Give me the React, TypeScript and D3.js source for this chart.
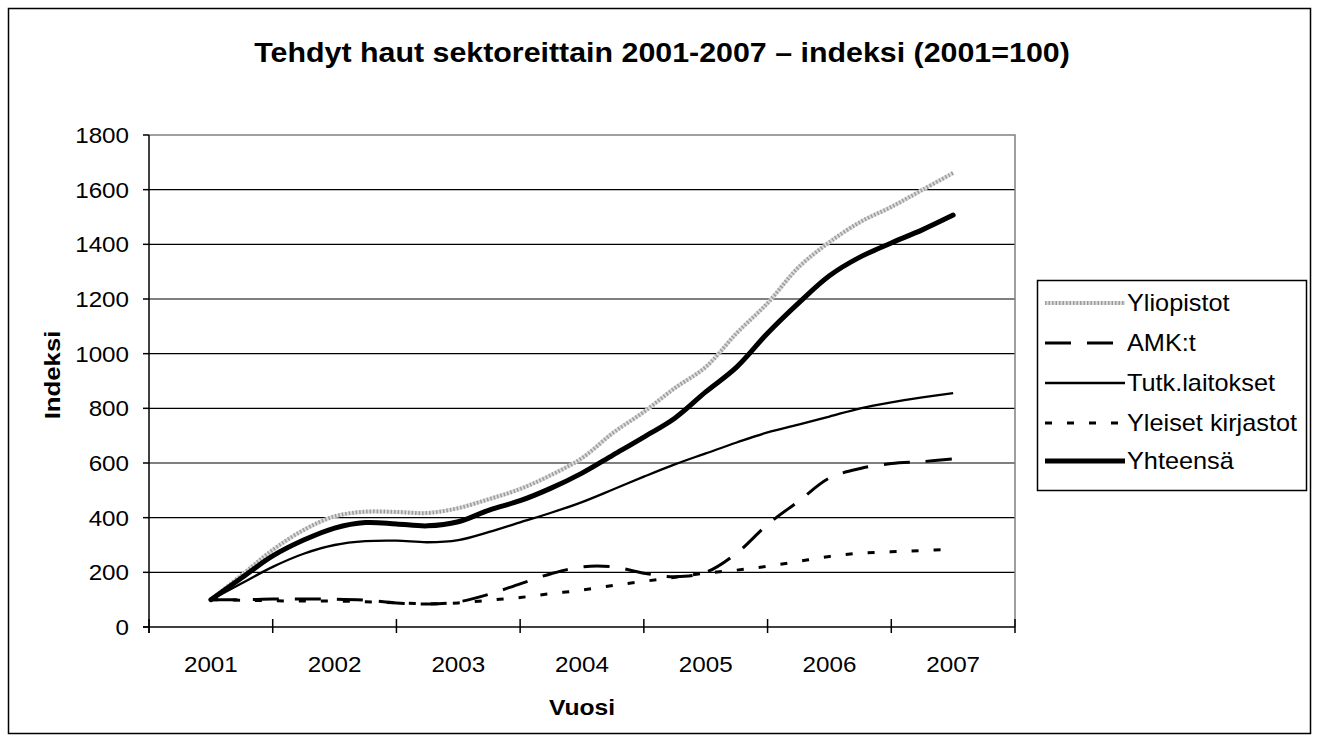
import React from "react";
import * as d3 from "d3";

const title = "Tehdyt haut sektoreittain 2001-2007 – indeksi (2001=100)";
const years = ["2001", "2002", "2003", "2004", "2005", "2006", "2007"];
const yTicks = [0, 200, 400, 600, 800, 1000, 1200, 1400, 1600, 1800];
const periods = [
  2001, 2001.25, 2001.5, 2001.75, 2002, 2002.25, 2002.5, 2002.75, 2003, 2003.25, 2003.5, 2003.75,
  2004, 2004.25, 2004.5, 2004.75, 2005, 2005.25, 2005.5, 2005.75, 2006, 2006.25, 2006.5, 2006.75, 2007,
];
const yliopistot = [
  100, 190, 282, 355, 405, 422, 421, 417, 435, 468, 505, 556,
  618, 710, 787, 874, 951, 1075, 1185, 1316, 1408, 1482, 1537, 1599, 1661,
];
const amk = [
  100, 100, 102, 102, 102, 98, 88, 84, 92, 120, 158, 195,
  220, 220, 197, 184, 200, 270, 375, 460, 545, 580, 598, 605, 615,
];
const tutk = [
  100, 160, 220, 268, 300, 314, 316, 310, 318, 348, 383, 418,
  457, 503, 550, 595, 635, 675, 712, 740, 770, 800, 822, 840, 856,
];
const yleiset = [
  100, 98, 96, 95, 95, 92, 88, 85, 88, 98, 108, 122,
  135, 152, 167, 182, 197, 208, 222, 240, 258, 270, 275, 280, 285,
];
const yhteensa = [
  100, 180, 260, 318, 362, 382, 377, 370, 385, 428, 462, 508,
  563, 629, 695, 764, 860, 951, 1075, 1185, 1285, 1354, 1405, 1453, 1507,
];

const seriesNames = ["Yliopistot", "AMK:t", "Tutk.laitokset", "Yleiset kirjastot", "Yhteensä"];

const FONT = "Arial, 'Liberation Sans', sans-serif";

type TProps = {
  x: number;
  y: number;
  size: number;
  anchor?: "start" | "middle" | "end";
  bold?: boolean;
  sx?: number;
  rotate?: number;
  dy?: string;
  children: React.ReactNode;
};

function T({ x, y, size, anchor = "start", bold = false, sx = 1.1, rotate = 0, dy, children }: TProps) {
  return (
    <text
      transform={`translate(${x},${y}) rotate(${rotate}) scale(${sx},1)`}
      textAnchor={anchor}
      fontSize={size}
      fontWeight={bold ? "bold" : "normal"}
      dy={dy}
    >
      {children}
    </text>
  );
}

export default function App() {
  const x = d3.scaleLinear().domain([2000.5, 2007.5]).range([149, 1015]);
  const y = d3.scaleLinear().domain([0, 1800]).range([627, 135]);
  const line = d3
    .line<number>()
    .x((_, i) => x(periods[i]))
    .y((d) => y(d))
    .curve(d3.curveCatmullRom.alpha(0.5));

  const boundaries = d3.range(0, years.length + 1).map((i) => 2000.5 + i);

  const styles = [
    { data: yliopistot, kind: "dotted" },
    { data: amk, stroke: "#000", width: 3, dash: "26 16" },
    { data: tutk, stroke: "#000", width: 2.3, dash: undefined },
    { data: yleiset, stroke: "#000", width: 3, dash: "7 15" },
    { data: yhteensa, stroke: "#000", width: 5, dash: undefined },
  ];

  const legendX0 = 1045;
  const legendX1 = 1125;
  const legendYs = [303, 343, 383, 423, 461];

  const renderSample = (i: number, x0: number, x1: number, yy: number) => {
    const s: any = styles[i];
    if (s.kind === "dotted") {
      return (
        <g key={"ls" + i}>
          <line x1={x0} x2={x1} y1={yy} y2={yy} stroke="#dcdcdc" strokeWidth={4} />
          <line x1={x0} x2={x1} y1={yy} y2={yy} stroke="#9c9c9c" strokeWidth={4} strokeDasharray="1.5 2" />
        </g>
      );
    }
    return (
      <line
        key={"ls" + i}
        x1={x0}
        x2={x1}
        y1={yy}
        y2={yy}
        stroke={s.stroke}
        strokeWidth={s.width}
        strokeDasharray={s.dash}
      />
    );
  };

  return (
    <svg
      width={1319}
      height={742}
      style={{ position: "absolute", left: 0, top: 0, background: "#fff" }}
      fontFamily={FONT}
    >
      <rect x={0} y={0} width={1319} height={742} fill="#fff" />
      <rect x={8.5} y={8.5} width={1302} height={725} fill="none" stroke="#000" strokeWidth={1.5} />

      <T x={662} y={62} size={28} anchor="middle" bold sx={1.085}>
        {title}
      </T>

      {/* gridlines */}
      {yTicks.slice(1, -1).map((t) => (
        <line key={"g" + t} x1={149} x2={1015} y1={y(t)} y2={y(t)} stroke="#000" strokeWidth={1.2} />
      ))}
      {/* plot border top/right */}
      <polyline
        points={`${x(2000.5)},${y(1800)} ${x(2007.5)},${y(1800)} ${x(2007.5)},${y(0)}`}
        fill="none"
        stroke="#808080"
        strokeWidth={1.5}
      />

      {/* y axis */}
      <line x1={149} x2={149} y1={y(1800)} y2={633} stroke="#000" strokeWidth={1.5} />
      {yTicks.map((t) => (
        <g key={"yt" + t}>
          <line x1={143} x2={149} y1={y(t)} y2={y(t)} stroke="#000" strokeWidth={1.5} />
          <T x={129} y={y(t)} dy="0.36em" anchor="end" size={22}>
            {t}
          </T>
        </g>
      ))}

      {/* x axis */}
      <line x1={143} x2={1015} y1={y(0)} y2={y(0)} stroke="#000" strokeWidth={1.5} />
      {boundaries.map((b) => (
        <line key={"xt" + b} x1={x(b)} x2={x(b)} y1={619} y2={633} stroke="#000" strokeWidth={1.5} />
      ))}
      {years.map((yr, i) => (
        <T key={"xl" + yr} x={x(2001 + i)} y={672} anchor="middle" size={22}>
          {yr}
        </T>
      ))}

      <T x={582} y={715} anchor="middle" size={22} bold sx={1.12}>
        Vuosi
      </T>
      <T x={60} y={375} rotate={-90} anchor="middle" size={23} bold sx={1.12}>
        Indeksi
      </T>

      {/* series */}
      {styles.map((s: any, i) => {
        const d = line(s.data) || "";
        if (s.kind === "dotted") {
          return (
            <g key={"s" + i}>
              <path d={d} fill="none" stroke="#dcdcdc" strokeWidth={4} />
              <path d={d} fill="none" stroke="#9c9c9c" strokeWidth={4} strokeDasharray="1.5 2" />
            </g>
          );
        }
        return (
          <path
            key={"s" + i}
            d={d}
            fill="none"
            stroke={s.stroke}
            strokeWidth={s.width}
            strokeDasharray={s.dash}
            strokeLinecap={i === 4 ? "round" : "butt"}
            strokeLinejoin="round"
          />
        );
      })}

      {/* legend */}
      <rect x={1037.5} y={280.5} width={269} height={210} fill="#fff" stroke="#000" strokeWidth={1.5} />
      {seriesNames.map((n, i) => (
        <g key={"lg" + n}>
          {renderSample(i, legendX0, legendX1, legendYs[i])}
          <T x={1127} y={legendYs[i]} dy="0.36em" size={23}>
            {n}
          </T>
        </g>
      ))}
    </svg>
  );
}
